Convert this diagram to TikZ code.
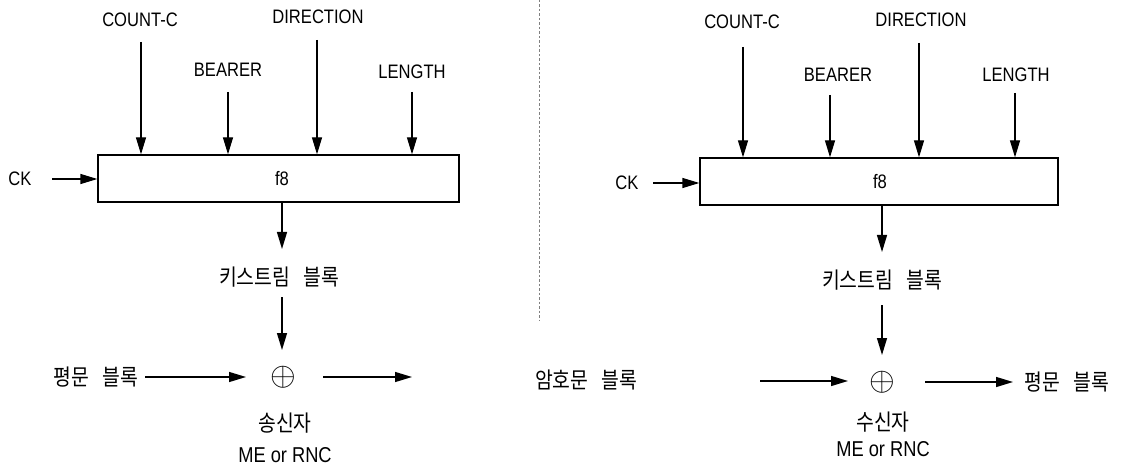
\documentclass[tikz,border=0pt]{standalone}
\usepackage{graphicx}
\usepackage{fontspec}
\setmainfont{Liberation Sans}[FakeStretch=0.85]
\newfontfamily\kofont{Noto Sans CJK KR}[FakeStretch=0.86,WordSpace=3]
\usetikzlibrary{arrows.meta}
\newcommand{\xorglyph}{\scalebox{3.3}{\fontsize{10}{12}\selectfont$\oplus$}}
\begin{document}
\begin{tikzpicture}[x=1pt,y=-1pt,
  arr/.style={line width=1.3pt,-{Triangle[length=17pt,width=10pt]}},
  lat/.style={font=\fontsize{19.5}{20}\selectfont,inner sep=0pt},
  me/.style={font=\fontsize{21.5}{22}\selectfont,inner sep=0pt},
  ko/.style={font=\kofont\fontsize{22.5}{23}\selectfont,inner sep=0pt},
  xorsym/.style={inner sep=0pt},
  fbox/.style={draw,line width=1.3pt,inner sep=0pt}]
\useasboundingbox (0,0) rectangle (1123,470);
% ---------- left (sender) ----------
\node[fbox,minimum width=361pt,minimum height=47pt] (boxL) at (278.5,178.5) {};
\node[lat] (f8L) at (282,179) {f8};
\node[lat] (ckL) at (20,179) {CK};
\node[lat] (ccL) at (140,20) {COUNT-C};
\node[lat] (brL) at (228,70) {BEARER};
\node[lat] (drL) at (318,17) {DIRECTION};
\node[lat] (lnL) at (412,72) {LENGTH};
\coordinate (ccLs) at (141,42);
\coordinate (brLs) at (228,92);
\coordinate (drLs) at (317,40);
\coordinate (lnLs) at (412,92);
\draw[arr] (ccLs) -- (ccLs |- boxL.north);
\draw[arr] (brLs) -- (brLs |- boxL.north);
\draw[arr] (drLs) -- (drLs |- boxL.north);
\draw[arr] (lnLs) -- (lnLs |- boxL.north);
\coordinate (ckLs) at (52,179);
\draw[arr] (ckLs) -- (ckLs -| boxL.west);
\node[ko] (ksL) at (279,277) {키스트림 블록};
\coordinate (ksLt) at (282,249);
\draw[arr] (boxL.south -| ksLt) -- (ksLt);
\node[xorsym] (xorL) at (283,377) {\xorglyph};
\coordinate (ksLb) at (282,297);
\draw[arr] (ksLb) -- (282,350);
\node[ko] (ptL) at (96,377) {평문 블록};
\coordinate (ptLs) at (145,377);
\draw[arr] (ptLs) -- (246,377);
\coordinate (outL) at (412,377);
\draw[arr] (323,377) -- (outL);
\node[ko] (sndL) at (285,423) {송신자};
\node[me] (meL) at (285,455) {ME or RNC};
% ---------- divider ----------
\draw[line width=0.7pt,dash pattern=on 2.5pt off 2pt,gray] (539,0) coordinate (dvT) -- (539,320) coordinate (dvB);
% ---------- right (receiver) ----------
\node[fbox,minimum width=358pt,minimum height=47pt] (boxR) at (879,181.5) {};
\node[lat] (f8R) at (880,182) {f8};
\node[lat] (ckR) at (627,183) {CK};
\node[lat] (ccR) at (742,22) {COUNT-C};
\node[lat] (brR) at (838,75) {BEARER};
\node[lat] (drR) at (921,20) {DIRECTION};
\node[lat] (lnR) at (1016,75) {LENGTH};
\coordinate (ccRs) at (743,47);
\coordinate (brRs) at (830,95);
\coordinate (drRs) at (919,43);
\coordinate (lnRs) at (1015,93);
\draw[arr] (ccRs) -- (ccRs |- boxR.north);
\draw[arr] (brRs) -- (brRs |- boxR.north);
\draw[arr] (drRs) -- (drRs |- boxR.north);
\draw[arr] (lnRs) -- (lnRs |- boxR.north);
\coordinate (ckRs) at (653,183);
\draw[arr] (ckRs) -- (ckRs -| boxR.west);
\node[ko] (ksR) at (882,280) {키스트림 블록};
\coordinate (ksRt) at (882,252);
\draw[arr] (boxR.south -| ksRt) -- (ksRt);
\node[xorsym] (xorR) at (882,382) {\xorglyph};
\coordinate (ksRb) at (882,305);
\draw[arr] (ksRb) -- (882,355);
\node[ko] (ctR) at (586,380) {암호문 블록};
\coordinate (ctRs) at (760,381);
\draw[arr] (ctRs) -- (848,381);
\node[ko] (ptR) at (1067,382) {평문 블록};
\coordinate (ptRe) at (1013,382);
\draw[arr] (925,382) -- (ptRe);
\node[ko] (rcvR) at (883,422) {수신자};
\node[me] (meR) at (883,449) {ME or RNC};
\end{tikzpicture}
\end{document}
